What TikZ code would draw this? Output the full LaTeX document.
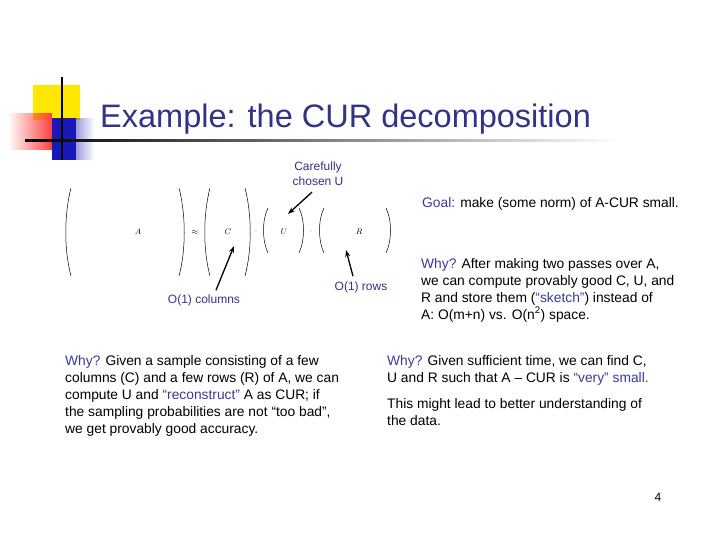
\documentclass[tikz,border=0pt]{standalone}
\usepackage{fontspec}
\setmainfont{Liberation Sans}
\usetikzlibrary{fadings,arrows.meta}
\definecolor{tblue}{HTML}{333385}
\definecolor{hl}{HTML}{3A3A9A}
\begin{document}
\begin{tikzpicture}[x=1pt,y=-1pt,
 body/.style={anchor=north west,inner sep=0,align=left,font=\fontsize{13.8}{17}\selectfont,text=black},
 lab/.style={inner sep=1pt,font=\fontsize{12}{15}\selectfont,text=tblue,align=center},
 mx/.style={inner sep=0,font=\fontsize{8}{9}\selectfont},
 par/.style={line width=0.5pt},
 arr/.style={line width=1.3pt,-{Stealth[length=7pt,width=5pt]}}]
\useasboundingbox (0,0) rectangle (720,540);
\fill[white] (0,0) rectangle (720,540);
% decoration
\fill[yellow!90!orange] (33,85) rectangle (80,120);
\fill[blue!70!black!90!white,path fading=east] (52,118) rectangle (94,160);
\fill[blue!70!black!90!white] (52,118) rectangle (76,160);
\fill[red!75,path fading=west] (8,113) rectangle (52,150);
\draw[line width=1.5pt] (62,77) -- (62,160);
\fill[left color=black,right color=white] (25,139.5) rectangle (620,141.5);
\node[anchor=base west,inner sep=0,text=tblue,font=\fontsize{32.5}{36}\selectfont] (title) at (100,128) {Example: the CUR decomposition};
% matrices
\draw[par] (71,188) .. controls (64,215) and (64,250) .. (71,276);
\draw[par] (179,188) .. controls (186,215) and (186,250) .. (179,276);
\draw[par] (210,188) .. controls (203,215) and (203,250) .. (210,276);
\draw[par] (245,188) .. controls (252,215) and (252,250) .. (245,276);
\draw[par] (268,208) .. controls (262,220) and (262,240) .. (268,253);
\draw[par] (299,208) .. controls (305,220) and (305,240) .. (299,253);
\draw[par] (324,208) .. controls (318,220) and (318,240) .. (324,253);
\draw[par] (386,208) .. controls (392,220) and (392,240) .. (386,253);
\node[mx] (A) at (138,232) {$A$};
\node[mx] (apx) at (195,232) {$\approx$};
\node[mx] (C) at (228,232) {$C$};
\node[mx] (d1) at (256,232) {$\cdot$};
\node[mx] (U) at (284,232) {$U$};
\node[mx] (d2) at (311,232) {$\cdot$};
\node[mx] (R) at (359,232) {$R$};
\coordinate (Ut) at (288,214);
\coordinate (Cb) at (234,246);
\coordinate (Rb) at (346,250);
% labels
\node[lab] (care) at (318,174) {Carefully\\chosen U};
\node[lab] (cols) at (204,300) {O(1) columns};
\node[lab] (rows) at (361,287) {O(1) rows};
\draw[arr] (care.south) ++(-6,5) -- (Ut);
\draw[arr] (cols.north) ++(12,-3) -- (Cb);
\draw[arr] (rows.north) ++(-8,-4) -- (Rb);
% texts
\node[body] (goal) at (422,197) {\textcolor{hl}{Goal:} make (some norm) of A-CUR small.};
\node[body] (why1) at (421,258) {\textcolor{hl}{Why?} After making two passes over A,\\we can compute provably good C, U, and\\R and store them (\textcolor{hl}{``sketch''}) instead of\\A: O(m+n) vs. O(n\textsuperscript{2}) space.};
\node[body] (why2) at (65,355) {\textcolor{hl}{Why?} Given a sample consisting of a few\\columns (C) and a few rows (R) of A, we can\\compute U and \textcolor{hl}{``reconstruct''} A as CUR; if\\the sampling probabilities are not ``too bad'',\\we get provably good accuracy.};
\node[body] (why3) at (387,355) {\textcolor{hl}{Why?} Given sufficient time, we can find C,\\U and R such that A -- CUR is \textcolor{hl}{``very'' small.}};
\node[body] (why4) at (387,398) {This might lead to better understanding of\\the data.};
\node[inner sep=0,font=\fontsize{12}{14}\selectfont] (pg) at (658,497) {4};
\end{tikzpicture}
\end{document}
